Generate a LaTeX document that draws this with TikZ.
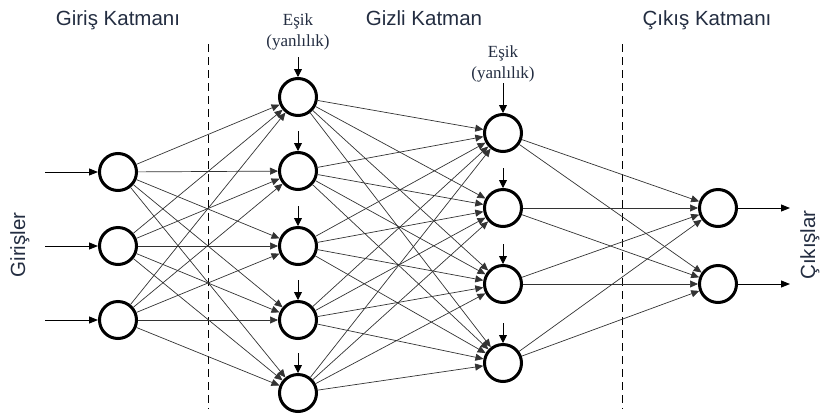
\documentclass[tikz,border=0pt]{standalone}
\usepackage{fontspec}
\setmainfont{Liberation Serif}
\setsansfont{Liberation Sans}
\usetikzlibrary{arrows.meta}
\definecolor{txt}{RGB}{35,45,65}
\begin{document}
\begin{tikzpicture}[x=1pt,y=-1pt,
 neuron/.style={circle,draw,line width=3pt,minimum size=37pt,inner sep=0pt},
 conn/.style={draw=black!80,line width=0.7pt,-{Triangle[length=8pt,width=7pt]}},
 feed/.style={draw=black,line width=0.9pt,-{Triangle[length=9pt,width=7pt]}},
 bias/.style={draw=black,line width=0.9pt,-{Triangle[length=8pt,width=8pt]}},
 title/.style={font=\sffamily\fontsize{20.5}{24}\selectfont,text=txt,anchor=base,inner sep=0pt},
 side/.style={font=\sffamily\fontsize{20.5}{24}\selectfont,text=txt,rotate=90,anchor=north,inner sep=0pt},
 esik/.style={font=\rmfamily\fontsize{17}{20.5}\selectfont,text=txt,align=center,anchor=south,inner sep=0pt},
 layer/.style={draw=black,line width=1pt,dash pattern=on 8pt off 5pt}]
\useasboundingbox (0,0) rectangle (820,416);

% layer separators
\draw[layer] (208,44) -- (208,409);
\draw[layer] (622,44) -- (622,409);

% titles
\node[title] (t1) at (118,25) {Giriş Katmanı};
\node[title] (t2) at (424,25) {Gizli Katman};
\node[title] (t3) at (707,25) {Çıkış Katmanı};
\node[side] (tin) at (10,245) {Girişler};
\node[side] (tout) at (800,245) {Çıkışlar};

% neurons
\foreach \y [count=\i] in {172,246,320} \node[neuron] (i\i) at (118,\y) {};
\foreach \y [count=\i] in {97,171,246,320,393} \node[neuron] (h\i) at (298,\y) {};
\foreach \y [count=\i] in {133,208,284,363} \node[neuron] (g\i) at (503,\y) {};
\foreach \y [count=\i] in {208,284} \node[neuron] (o\i) at (718,\y) {};

% inputs and outputs
\foreach \y [count=\i] in {172,246,320} {
  \coordinate (in\i) at (45,\y);
  \draw[feed] (in\i) -- (i\i);
}
\foreach \y [count=\i] in {208,284} {
  \coordinate (out\i) at (790,\y);
  \draw[feed] (o\i) -- (out\i);
}

% bias labels and arrows
\node[esik] (e1) at (298,50) {Eşik\\(yanlılık)};
\node[esik] (e2) at (503,82) {Eşik\\(yanlılık)};
\coordinate (bh1) at (298,57);
\draw[bias] (bh1) -- (h1);
\foreach \y [count=\i from 2] in {131,206,280,353} {
  \coordinate (bh\i) at (298,\y);
  \draw[bias] (bh\i) -- (h\i);
}
\coordinate (bg1) at (503,83);
\draw[bias] (bg1) -- (g1);
\foreach \y [count=\i from 2] in {168,244,323} {
  \coordinate (bg\i) at (503,\y);
  \draw[bias] (bg\i) -- (g\i);
}

% connections
\foreach \a in {1,2,3} \foreach \b in {1,...,5} \draw[conn] (i\a) -- (h\b);
\foreach \a in {1,...,5} \foreach \b in {1,...,4} \draw[conn] (h\a) -- (g\b);
\foreach \a in {1,...,4} \foreach \b in {1,2} \draw[conn] (g\a) -- (o\b);
\end{tikzpicture}
\end{document}
